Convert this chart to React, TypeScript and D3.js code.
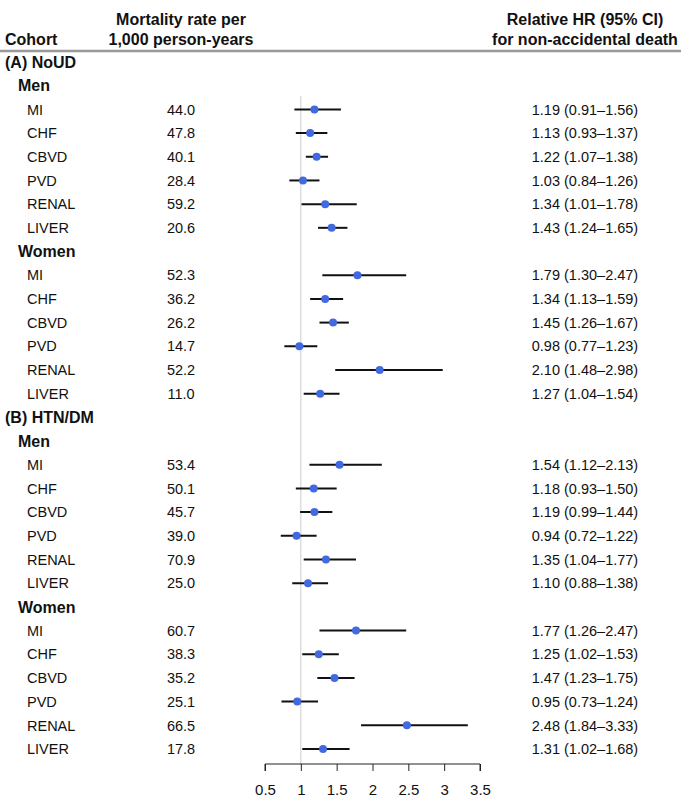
import { useRef, useEffect } from "react";
import * as d3 from "d3";

// Forest plot data, order: NoUD men, NoUD women, HTN/DM men, HTN/DM women
const cohorts = ["(A) NoUD", "(B) HTN/DM"];
const sexes = ["Men", "Women"];
const outcomes = ["MI", "CHF", "CBVD", "PVD", "RENAL", "LIVER"];

const mortality = [
  44.0, 47.8, 40.1, 28.4, 59.2, 20.6,
  52.3, 36.2, 26.2, 14.7, 52.2, 11.0,
  53.4, 50.1, 45.7, 39.0, 70.9, 25.0,
  60.7, 38.3, 35.2, 25.1, 66.5, 17.8,
];
const hr = [
  1.19, 1.13, 1.22, 1.03, 1.34, 1.43,
  1.79, 1.34, 1.45, 0.98, 2.1, 1.27,
  1.54, 1.18, 1.19, 0.94, 1.35, 1.1,
  1.77, 1.25, 1.47, 0.95, 2.48, 1.31,
];
const lower = [
  0.91, 0.93, 1.07, 0.84, 1.01, 1.24,
  1.3, 1.13, 1.26, 0.77, 1.48, 1.04,
  1.12, 0.93, 0.99, 0.72, 1.04, 0.88,
  1.26, 1.02, 1.23, 0.73, 1.84, 1.02,
];
const upper = [
  1.56, 1.37, 1.38, 1.26, 1.78, 1.65,
  2.47, 1.59, 1.67, 1.23, 2.98, 1.54,
  2.13, 1.5, 1.44, 1.22, 1.77, 1.38,
  2.47, 1.53, 1.75, 1.24, 3.33, 1.68,
];
const xTicks = [0.5, 1, 1.5, 2, 2.5, 3, 3.5];

type Row = { kind: "cohort" | "sex" | "item"; label: string; idx?: number };

const App = () => {
  const svgRef = useRef<SVGSVGElement | null>(null);
  const width = 685;
  const height = 802;

  useEffect(() => {
    if (!svgRef.current) return;
    const svg = d3.select(svgRef.current);
    svg.selectAll("*").remove();

    const font = "Liberation Sans, Arial, sans-serif";
    const rateX = 181;
    const hrX = 585;

    // build row list
    const rows: Row[] = [];
    let k = 0;
    cohorts.forEach((c) => {
      rows.push({ kind: "cohort", label: c });
      sexes.forEach((s) => {
        rows.push({ kind: "sex", label: s });
        outcomes.forEach((o) => {
          rows.push({ kind: "item", label: o, idx: k });
          k++;
        });
      });
    });

    const y = d3
      .scalePoint<number>()
      .domain(d3.range(rows.length))
      .range([62, 749]);

    const x = d3.scaleLinear().domain([0.5, 3.5]).range([265, 480]);

    // header
    const header = svg
      .append("g")
      .style("font-family", font)
      .style("font-size", "16px")
      .style("font-weight", "bold")
      .attr("fill", "#111");
    header.append("text").attr("x", 5).attr("y", 45).text("Cohort");
    header
      .append("text")
      .attr("x", rateX)
      .attr("y", 24.5)
      .attr("text-anchor", "middle")
      .text("Mortality rate per");
    header
      .append("text")
      .attr("x", rateX)
      .attr("y", 45)
      .attr("text-anchor", "middle")
      .text("1,000 person-years");
    header
      .append("text")
      .attr("x", hrX)
      .attr("y", 24.5)
      .attr("text-anchor", "middle")
      .text("Relative HR (95% CI)");
    header
      .append("text")
      .attr("x", hrX)
      .attr("y", 45)
      .attr("text-anchor", "middle")
      .text("for non-accidental death");

    svg
      .append("line")
      .attr("x1", 0)
      .attr("x2", 681)
      .attr("y1", 51)
      .attr("y2", 51)
      .attr("stroke", "#999")
      .attr("stroke-width", 2.5);

    // reference line at HR = 1
    svg
      .append("line")
      .attr("x1", x(1))
      .attr("x2", x(1))
      .attr("y1", 96)
      .attr("y2", 764)
      .attr("stroke", "#ccc")
      .attr("stroke-width", 1);

    // rows
    const g = svg.append("g").style("font-family", font).attr("fill", "#111");
    rows.forEach((r, i) => {
      const yy = y(i)!;
      if (r.kind === "cohort" || r.kind === "sex") {
        g.append("text")
          .attr("x", r.kind === "cohort" ? 5 : 18)
          .attr("y", yy)
          .attr("dy", "0.36em")
          .style("font-size", "16px")
          .style("font-weight", "bold")
          .text(r.label);
        return;
      }
      const j = r.idx!;
      g.append("text")
        .attr("x", 27)
        .attr("y", yy)
        .attr("dy", "0.36em")
        .style("font-size", "14.5px")
        .text(r.label);
      g.append("text")
        .attr("x", rateX)
        .attr("y", yy)
        .attr("dy", "0.36em")
        .attr("text-anchor", "middle")
        .style("font-size", "14.5px")
        .text(mortality[j].toFixed(1));
      g.append("text")
        .attr("x", hrX)
        .attr("y", yy)
        .attr("dy", "0.36em")
        .attr("text-anchor", "middle")
        .style("font-size", "14.5px")
        .text(
          `${hr[j].toFixed(2)} (${lower[j].toFixed(2)}\u2013${upper[j].toFixed(2)})`
        );
      g.append("line")
        .attr("x1", x(lower[j]))
        .attr("x2", x(upper[j]))
        .attr("y1", yy)
        .attr("y2", yy)
        .attr("stroke", "#111")
        .attr("stroke-width", 2);
      g.append("circle")
        .attr("cx", x(hr[j]))
        .attr("cy", yy)
        .attr("r", 4)
        .attr("fill", "#4169e1");
    });

    // x axis
    const axis = svg
      .append("g")
      .attr("transform", "translate(0,764)")
      .call(
        d3
          .axisBottom(x)
          .tickValues(xTicks)
          .tickSize(7)
          .tickPadding(13)
          .tickFormat((d) => String(d))
      );
    axis
      .select(".domain")
      .attr("stroke", "#222")
      .attr("d", `M${x(0.5)},7V0H${x(3.5)}V7`);
    axis.selectAll(".tick line").attr("stroke", "#222");
    axis
      .selectAll(".tick text")
      .style("font-family", font)
      .style("font-size", "15px")
      .attr("fill", "#111");
  }, []);

  return (
    <svg
      ref={svgRef}
      width={width}
      height={height}
      style={{ position: "absolute", left: 0, top: 0, background: "#fff" }}
    ></svg>
  );
};

export default App;
